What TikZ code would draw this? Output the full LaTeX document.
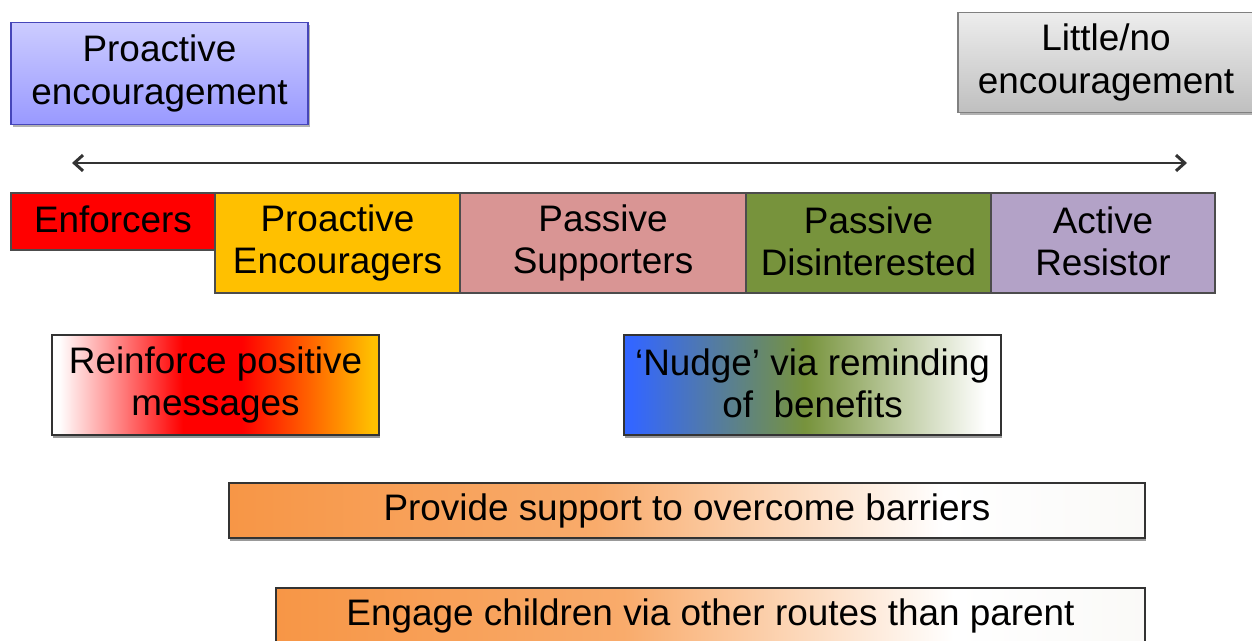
\documentclass[tikz,border=0pt]{standalone}
\usepackage{fontspec}
\setmainfont{Liberation Sans}
\usepackage{tikz}
\usetikzlibrary{positioning,arrows.meta,shadows}

\definecolor{enfred}{HTML}{FF0000}
\definecolor{amber}{HTML}{FFC000}
\definecolor{rosepink}{HTML}{D99594}
\definecolor{olive}{HTML}{77933C}
\definecolor{lilac}{HTML}{B3A2C7}
\definecolor{carrot}{HTML}{F79646}
\definecolor{skyblue}{HTML}{3366FF}
\definecolor{offwhite}{HTML}{EEECE6}

\newcommand{\capstrut}{\rule[-2.5pt]{0pt}{17.5pt}}

\pgfdeclarehorizontalshading{reinforceshade}{100bp}{color(0bp)=(white); color(26bp)=(white); color(45bp)=(enfred); color(54bp)=(enfred); color(74bp)=(amber); color(100bp)=(amber)}
\pgfdeclarehorizontalshading{nudgeshade}{100bp}{color(0bp)=(skyblue); color(26bp)=(skyblue); color(49bp)=(olive); color(73bp)=(white); color(100bp)=(white)}
\pgfdeclarehorizontalshading{supportshade}{100bp}{color(0bp)=(carrot); color(25bp)=(carrot); color(45bp)=(carrot!80!white); color(64bp)=(white); color(100bp)=(offwhite)}

\begin{document}
\begin{tikzpicture}[x=0.02cm, y=-0.02cm,
	>={Straight Barb[length=5pt,width=9pt]},
	every node/.style={font=\fontsize{21}{24}\selectfont, align=center, inner sep=0pt, outer sep=0pt,
		execute at begin node=\capstrut, execute at end node=\capstrut},
	endbox/.style={draw, line width=0.8pt, drop shadow={shadow xshift=1pt, shadow yshift=-1.5pt, fill=black!60}},
	segbox/.style={draw=black!70, line width=0.8pt},
	actbox/.style={draw=black!80, line width=0.8pt, drop shadow={shadow xshift=0.5pt, shadow yshift=-1.5pt, fill=black!80}}
	]
	\useasboundingbox (0,0) rectangle (1252,641);

	% ends of the scale
	\node [endbox, draw=blue!45!gray, top color=blue!20, bottom color=blue!40, minimum width=5.94cm, minimum height=2.04cm] (proact) at (159.5,73.5) {Proactive\\encouragement};
	\node [endbox, draw=black!50, top color=black!7, bottom color=black!25, minimum width=5.92cm, minimum height=2cm] (littleno) at (1106,62.5) {Little/no\\encouragement};

	\coordinate (arrL) at (72,163);
	\coordinate (arrR) at (1187,163);
	\path [draw=black!80, line width=1.7pt, <->] (arrL) -- (arrR);

	% segments
	\node [segbox, fill=enfred, minimum width=4.08cm, minimum height=1.14cm] (enf) at (113,221.5) {Enforcers};
	\node [segbox, fill=amber, minimum width=4.9cm, minimum height=2cm] (penc) at (337.5,243) {Proactive\\Encouragers};
	\node [segbox, fill=rosepink, minimum width=5.72cm, minimum height=2cm] (psup) at (603,243) {Passive\\Supporters};
	\node [segbox, fill=olive, minimum width=4.9cm, minimum height=2cm] (pdis) at (868.5,243) {Passive\\Disinterested};
	\node [segbox, fill=lilac, minimum width=4.48cm, minimum height=2cm] (ares) at (1103,243) {Active\\Resistor};

	% actions
	\node [actbox, shading=reinforceshade, minimum width=6.54cm, minimum height=2cm] (reinf) at (215.5,385) {Reinforce positive\\messages};
	\node [actbox, shading=nudgeshade, minimum width=7.54cm, minimum height=2cm] (nudge) at (812.5,385) {‘Nudge’ via reminding\\of~ benefits};
	\node [actbox, shading=supportshade, minimum width=18.32cm, minimum height=1.1cm] (support) at (687,510.5) {Provide support to overcome barriers};
	\node [actbox, shading=supportshade, minimum width=17.38cm, minimum height=1.12cm] (engage) at (710.5,616) {Engage children via other routes than parent};
\end{tikzpicture}
\end{document}
